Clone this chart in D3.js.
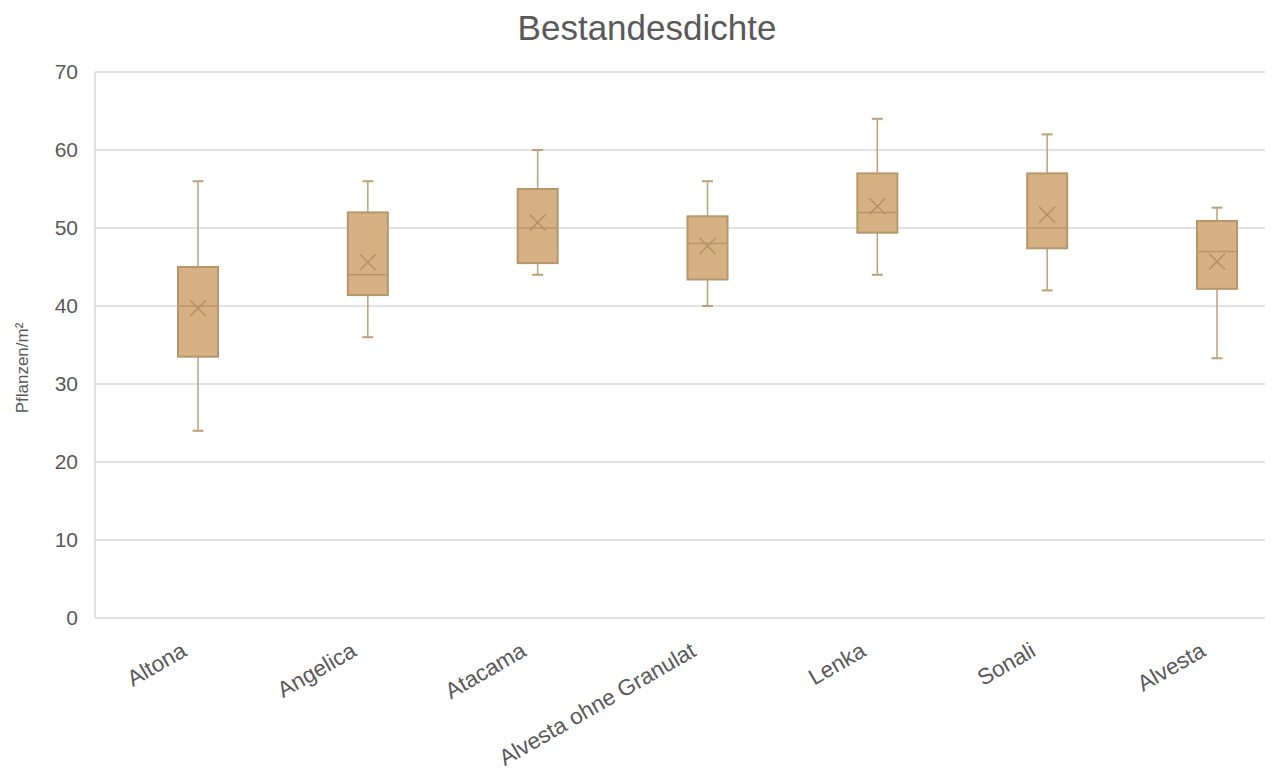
<!DOCTYPE html>
<html>
<head>
<meta charset="utf-8">
<script src="https://cdn.jsdelivr.net/npm/d3@7"></script>
<style>
  body { margin: 0; background: #fff; }
  text { font-family: "Liberation Sans", Arial, sans-serif; fill: #595959; }
</style>
</head>
<body>
<svg id="chart" width="1274" height="771"></svg>
<script>
const categories = ['Altona', 'Angelica', 'Atacama', 'Alvesta ohne Granulat', 'Lenka', 'Sonali', 'Alvesta'];
const whiskerLow = [24, 36, 44, 40, 44, 42, 33.3];
const boxLow = [33.5, 41.4, 45.5, 43.4, 49.4, 47.4, 42.2];
const medians = [40, 44, 50, 48, 52, 50, 47];
const boxHigh = [45, 52, 55, 51.5, 57, 57, 50.9];
const whiskerHigh = [56, 56, 60, 56, 64, 62, 52.6];
const means = [39.7, 45.6, 50.7, 47.7, 52.8, 51.7, 45.7];
const yTicks = [0, 10, 20, 30, 40, 50, 60, 70];

const svg = d3.select('#chart');
const plotLeft = 95, plotRight = 1265, plotTop = 72, plotBottom = 618;

const y = d3.scaleLinear().domain([0, 70]).range([plotBottom, plotTop]);
const x = d3.scalePoint().domain(categories).range([198, 1217]);

// grid
svg.append('g').selectAll('line')
  .data(yTicks)
  .enter().append('line')
  .attr('x1', plotLeft).attr('x2', plotRight)
  .attr('y1', d => y(d)).attr('y2', d => y(d))
  .attr('stroke', '#d9d9d9').attr('stroke-width', 1.5);

svg.append('line')
  .attr('x1', plotLeft).attr('x2', plotLeft)
  .attr('y1', plotTop).attr('y2', plotBottom)
  .attr('stroke', '#d9d9d9').attr('stroke-width', 1.5);

// y tick labels
svg.append('g').selectAll('text')
  .data(yTicks)
  .enter().append('text')
  .attr('x', 78).attr('y', d => y(d))
  .attr('dy', '0.35em')
  .attr('text-anchor', 'end')
  .style('font-size', '21px')
  .text(d => d);

// category labels
svg.append('g').selectAll('text')
  .data(categories)
  .enter().append('text')
  .attr('transform', d => `translate(${x(d) - 10},655) rotate(-30)`)
  .attr('text-anchor', 'end')
  .style('font-size', '22.5px')
  .text(d => d);

// title
svg.append('text')
  .attr('x', 647).attr('y', 40)
  .attr('text-anchor', 'middle')
  .style('font-size', '35px')
  .text('Bestandesdichte');

svg.append('text')
  .attr('transform', 'translate(28,368) rotate(-90)')
  .attr('text-anchor', 'middle')
  .style('font-size', '17px')
  .text('Pflanzen/m²');

// boxes
const boxW = 40, capW = 11, xs = 8;
const g = svg.append('g').selectAll('g')
  .data(categories)
  .enter().append('g');

g.append('line')
  .attr('x1', d => x(d)).attr('x2', d => x(d))
  .attr('y1', (d, i) => y(whiskerHigh[i])).attr('y2', (d, i) => y(whiskerLow[i]))
  .attr('stroke', '#bf9f78').attr('stroke-width', 1.5);

[whiskerHigh, whiskerLow].forEach(arr => {
  g.append('line')
    .attr('x1', d => x(d) - capW / 2).attr('x2', d => x(d) + capW / 2)
    .attr('y1', (d, i) => y(arr[i])).attr('y2', (d, i) => y(arr[i]))
    .attr('stroke', '#bf9f78').attr('stroke-width', 2);
});

g.append('rect')
  .attr('x', d => x(d) - boxW / 2)
  .attr('width', boxW)
  .attr('y', (d, i) => y(boxHigh[i]))
  .attr('height', (d, i) => y(boxLow[i]) - y(boxHigh[i]))
  .attr('fill', '#d5b183')
  .attr('stroke', '#b8966c').attr('stroke-width', 2);

g.append('line')
  .attr('x1', d => x(d) - boxW / 2).attr('x2', d => x(d) + boxW / 2)
  .attr('y1', (d, i) => y(medians[i])).attr('y2', (d, i) => y(medians[i]))
  .attr('stroke', '#b8966c').attr('stroke-width', 1.5);

g.append('path')
  .attr('d', (d, i) => {
    const cx = x(d), cy = y(means[i]);
    return `M${cx - xs},${cy - xs}L${cx + xs},${cy + xs}M${cx - xs},${cy + xs}L${cx + xs},${cy - xs}`;
  })
  .attr('stroke', '#b09068').attr('stroke-width', 1.5).attr('fill', 'none');
</script>
</body>
</html>
